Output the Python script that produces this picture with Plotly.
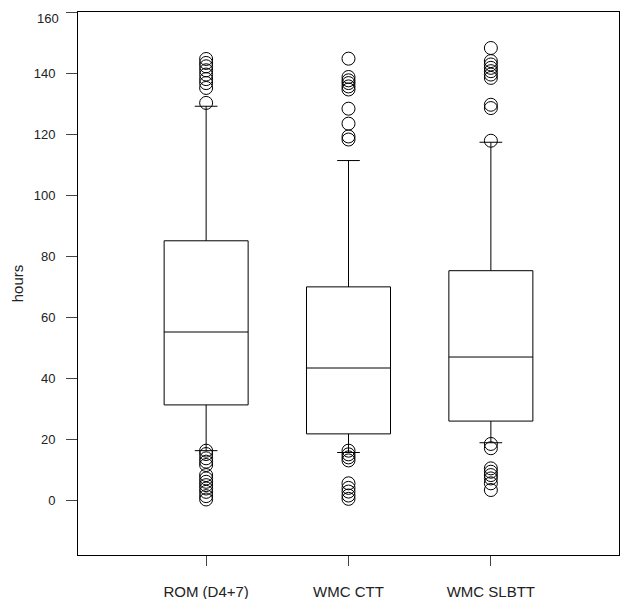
import plotly.graph_objects as go

categories = ["ROM (D4+7)", "WMC CTT", "WMC SLBTT"]
q1 = [31.2, 21.7, 25.9]
median = [55.1, 43.3, 46.9]
q3 = [85.0, 69.9, 75.2]
lower_fence = [16.2, 15.6, 18.8]
upper_fence = [129.1, 111.3, 117.3]

outliers_rom = [144.6, 143.3, 142.2, 140.9, 139.5, 138.0, 136.7, 135.1, 130.2,
                16.2, 15.1, 13.7, 12.6, 11.5, 8.2, 7.1, 6.0, 4.9, 3.8, 2.7, 1.3, 0.2]
outliers_ctt = [144.7, 138.7, 137.6, 136.7, 135.6, 134.6, 128.3, 123.4, 119.2, 118.2,
                16.2, 15.0, 14.0, 13.0, 5.5, 4.0, 2.8, 1.5, 0.4]
outliers_slbtt = [148.2, 143.9, 142.8, 141.7, 140.6, 139.5, 138.4, 129.6, 128.5, 117.8,
                  18.4, 17.0, 10.4, 9.3, 8.2, 7.1, 5.5, 3.3]

y_ticks = [0, 20, 40, 60, 80, 100, 120, 140, 160]

fig = go.Figure()
fig.add_trace(go.Box(
    x=categories,
    q1=q1, median=median, q3=q3,
    lowerfence=lower_fence, upperfence=upper_fence,
    width=0.59,
    whiskerwidth=0.27,
    fillcolor="white",
    line=dict(color="black", width=1),
    boxpoints=False,
    showlegend=False,
    hoverinfo="skip",
))

all_outliers = [outliers_rom, outliers_ctt, outliers_slbtt]
ox, oy = [], []
for cat, vals in zip(categories, all_outliers):
    ox += [cat] * len(vals)
    oy += vals

fig.add_trace(go.Scatter(
    x=ox, y=oy, mode="markers",
    marker=dict(symbol="circle-open", size=13, color="black",
                line=dict(width=1, color="black")),
    showlegend=False,
    hoverinfo="skip",
))

# the top tick label sits at the very edge of the figure; draw it as an annotation
top_tick = y_ticks[-1]
tick_text = [str(v) for v in y_ticks[:-1]] + [""]

# the page body has an 8px default margin; size the figure so it fits the window
font_family = "Liberation Sans, Arial, sans-serif"
fig.update_layout(
    width=612, height=591,
    margin=dict(l=70, r=1, t=4, b=44),
    paper_bgcolor="white", plot_bgcolor="white",
    font=dict(family=font_family, size=12, color="#222"),
    annotations=[dict(
        text=str(top_tick), xref="paper", x=0, xanchor="right", xshift=-17,
        yref="y", y=top_tick, yanchor="middle", yshift=-6,
        showarrow=False, font=dict(size=13, color="#222"),
    )],
)
fig.update_xaxes(
    type="category",
    categoryorder="array", categoryarray=categories,
    range=[-0.9, 2.9],
    automargin=False,
    showline=True, linecolor="black", linewidth=1, mirror=True,
    ticks="outside", ticklen=10, tickcolor="#444", tickwidth=1,
    showgrid=False, zeroline=False,
    ticklabelstandoff=13,
    tickfont=dict(size=15, color="#222"),
)
fig.update_yaxes(
    range=[-18, 160],
    tickvals=y_ticks, ticktext=tick_text,
    automargin=False,
    showline=True, linecolor="black", linewidth=1, mirror=True,
    ticks="outside", ticklen=11, tickcolor="#444", tickwidth=1,
    showgrid=False, zeroline=False,
    ticklabelstandoff=8,
    tickfont=dict(size=13, color="#222"),
    title=dict(text="hours", font=dict(size=15, color="#222"), standoff=6),
)

fig.write_html("out.html")
